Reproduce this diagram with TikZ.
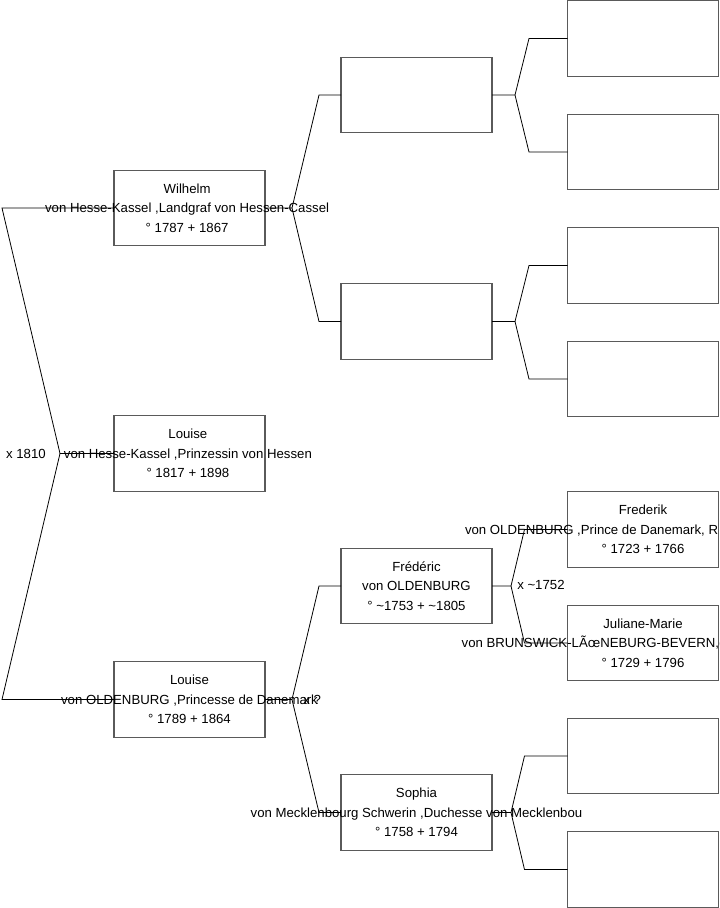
\documentclass[tikz,border=0pt]{standalone}
\usepackage{fontspec}
\setmainfont{Liberation Sans}
\usetikzlibrary{calc}
\definecolor{boxline}{RGB}{90,90,90}
\tikzset{
  pbox/.style={draw=boxline, line width=0.9pt, minimum width=113.25pt, minimum height=56.5pt, inner sep=0pt, outer sep=0pt},
  ptext/.style={align=center, inner sep=0.75pt, font=\fontsize{9.9}{14.6}\selectfont},
  link/.style={line width=0.6pt},
  marr/.style={inner sep=0.75pt, font=\fontsize{9.9}{11}\selectfont}
}

\begin{document}
\begin{tikzpicture}[x=0.75pt,y=0.75pt,yscale=-1,xscale=1]
\useasboundingbox (0,0) rectangle (719,908);

%Generation 1
\node [pbox] (louiseH) at (189.5,453.5) {};
%Generation 2
\node [pbox] (wilhelm) at (189.5,208) {};
\node [pbox] (louiseO) at (189.5,699.5) {};
%Generation 3
\node [pbox] (gpa) at (416.5,95) {};
\node [pbox] (gpb) at (416.5,321.5) {};
\node [pbox] (frederic) at (416.5,586) {};
\node [pbox] (sophia) at (416.5,812.5) {};
%Generation 4
\node [pbox] (ggpa) at (643,38.5) {};
\node [pbox] (ggpb) at (643,152) {};
\node [pbox] (ggpc) at (643,265.5) {};
\node [pbox] (ggpd) at (643,379) {};
\node [pbox] (frederik) at (643,529.5) {};
\node [pbox] (juliane) at (643,643) {};
\node [pbox] (ggpg) at (643,756) {};
\node [pbox] (ggph) at (643,869.5) {};

% Text Node
\node [ptext] (t-louiseH) at ([xshift=-1.2pt]louiseH) {Louise\\von Hesse-Kassel ,Prinzessin von Hessen\\° 1817 + 1898};
% Text Node
\node [ptext] (t-wilhelm) at ([xshift=-1.8pt]wilhelm) {Wilhelm\\von Hesse-Kassel ,Landgraf von Hessen-Cassel\\° 1787 + 1867};
% Text Node
\node [ptext] (t-louiseO) at (louiseO) {Louise\\von OLDENBURG ,Princesse de Danemark\\° 1789 + 1864};
% Text Node
\node [ptext] (t-frederic) at (frederic) {Frédéric\\von OLDENBURG\\° \textasciitilde1753 + \textasciitilde1805};
% Text Node
\node [ptext] (t-sophia) at (sophia) {Sophia\\von Mecklenbourg Schwerin ,Duchesse von Mecklenbou\\° 1758 + 1794};
% Text Node
\node [ptext] (t-frederik) at (frederik) {Frederik\\\makebox[267pt][l]{von OLDENBURG ,Prince de Danemark, R}\\° 1723 + 1766};
% Text Node
\node [ptext] (t-juliane) at (juliane) {Juliane-Marie\\\makebox[272pt][l]{von BRUNSWICK-LÃœNEBURG-BEVERN,(}\\° 1729 + 1796};

%Parents of Louise
\coordinate (j0) at (60,453.5);
\coordinate (e0a) at (2,208);
\coordinate (e0b) at (2,699.5);
\draw [link] (louiseH.west) -- (j0) -- (e0a) -- (wilhelm.west);
\draw [link] (j0) -- (e0b) -- (louiseO.west);
\node [marr, anchor=east] (m0) at (47,453.5) {x 1810};

%Parents of Wilhelm
\coordinate (j1) at (292,208);
\draw [link] (wilhelm.east) -- (j1) -- ($(gpa.west)+(-22,0)$) -- (gpa.west);
\draw [link] (j1) -- ($(gpb.west)+(-22,0)$) -- (gpb.west);

%Parents of Louise (Oldenburg)
\coordinate (j2) at (292,699.5);
\draw [link] (louiseO.east) -- (j2) -- ($(frederic.west)+(-22,0)$) -- (frederic.west);
\draw [link] (j2) -- ($(sophia.west)+(-22,0)$) -- (sophia.west);
\node [marr, anchor=west] (m2) at (302,699.5) {x ?};

%Generation 3 forks
\coordinate (j3) at (515,95);
\draw [link] (gpa.east) -- (j3) -- ($(ggpa.west)+(-38.5,0)$) -- (ggpa.west);
\draw [link] (j3) -- ($(ggpb.west)+(-38.5,0)$) -- (ggpb.west);
\coordinate (j4) at (515,321.5);
\draw [link] (gpb.east) -- (j4) -- ($(ggpc.west)+(-38.5,0)$) -- (ggpc.west);
\draw [link] (j4) -- ($(ggpd.west)+(-38.5,0)$) -- (ggpd.west);
\coordinate (j5) at (511,586);
\draw [link] (frederic.east) -- (j5) -- ($(frederik.west)+(-43,0)$) -- (frederik.west);
\draw [link] (j5) -- ($(juliane.west)+(-43,0)$) -- (juliane.west);
\node [marr, anchor=west] (m5) at (516,584.5) {x \textasciitilde1752};
\coordinate (j6) at (511,812.5);
\draw [link] (sophia.east) -- (j6) -- ($(ggpg.west)+(-43,0)$) -- (ggpg.west);
\draw [link] (j6) -- ($(ggph.west)+(-43,0)$) -- (ggph.west);

\end{tikzpicture}
\end{document}
